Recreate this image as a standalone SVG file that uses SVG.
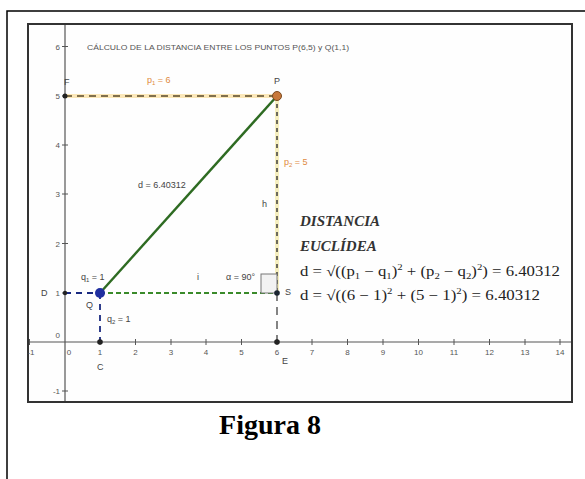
<svg xmlns="http://www.w3.org/2000/svg" width="585" height="479" viewBox="0 0 585 479">
<style>
.ax{stroke:#555;stroke-width:1.2;fill:none}
.tk{stroke:#555;stroke-width:1}
.tl{font-family:"Liberation Sans",Arial,sans-serif;font-size:8px;fill:#555}
.lb{font-family:"Liberation Sans",Arial,sans-serif;font-size:9px;fill:#444}
.ol{font-family:"Liberation Sans",Arial,sans-serif;font-size:9px;fill:#e08a40}
.fm{font-family:"Liberation Serif","Times New Roman",serif;font-size:14px;fill:#222}
.hd{font-family:"Liberation Serif","Times New Roman",serif;font-size:15px;font-style:italic;font-weight:bold;fill:#333}
</style>
<rect x="0" y="0" width="585" height="479" fill="#fff"/>
<path d="M7 600 V11 H600" fill="none" stroke="#000" stroke-width="1.5"/>
<rect x="28" y="24" width="544" height="378" fill="#fefefe" stroke="#333" stroke-width="2"/>
<g id="axes">
<line class="ax" x1="29" y1="342" x2="571" y2="342"/>
<line class="ax" x1="65" y1="25" x2="65" y2="401"/>
<g class="tk">
<path d="M29.5 339v6M100 339v6M135.5 339v6M171 339v6M206 339v6M241.5 339v6M277 339v6M312 339v6M347.5 339v6M383 339v6M418.5 339v6M454 339v6M489.5 339v6M525 339v6M560 339v6"/>
<path d="M62 46.5h6M62 96h6M62 145h6M62 194h6M62 243.5h6M62 293h6M62 391h6"/>
</g>
<g class="tl" text-anchor="middle">
<text x="31" y="355">-1</text><text x="69" y="355">0</text><text x="100" y="355">1</text><text x="135.5" y="355">2</text><text x="171" y="355">3</text><text x="206" y="355">4</text><text x="241.5" y="355">5</text><text x="277" y="355">6</text><text x="312" y="355">7</text><text x="347.5" y="355">8</text><text x="383" y="355">9</text><text x="418.5" y="355">10</text><text x="454" y="355">11</text><text x="489.5" y="355">12</text><text x="525" y="355">13</text><text x="560" y="355">14</text>
</g>
<g class="tl" text-anchor="end">
<text x="60" y="49.5">6</text><text x="60" y="99">5</text><text x="60" y="148">4</text><text x="60" y="197">3</text><text x="60" y="246.5">2</text><text x="60" y="296">1</text><text x="60" y="338">0</text><text x="60" y="394">-1</text>
</g>
</g>
<text class="tl" x="87" y="50" textLength="262" lengthAdjust="spacingAndGlyphs" fill="#666">CÁLCULO DE LA DISTANCIA ENTRE LOS PUNTOS P(6,5) y Q(1,1)</text>
<g id="connectors">
<line x1="65" y1="96" x2="277" y2="96" stroke="#fbe7b8" stroke-width="4"/>
<line x1="65" y1="96" x2="277" y2="96" stroke="#5a4a2a" stroke-width="1.6" stroke-dasharray="7 5"/>
<line x1="277" y1="96" x2="277" y2="293" stroke="#f6efc0" stroke-width="4"/>
<line x1="277" y1="96" x2="277" y2="293" stroke="#333" stroke-width="1.4" stroke-dasharray="4 4"/>
<line x1="277" y1="293" x2="277" y2="342" stroke="#333" stroke-width="1.2" stroke-dasharray="8 6"/>
<line x1="100" y1="293" x2="277" y2="293" stroke="#3a8a2a" stroke-width="2" stroke-dasharray="5 3"/>
<line x1="65" y1="293" x2="100" y2="293" stroke="#1a2a80" stroke-width="1.8" stroke-dasharray="6 5"/>
<line x1="100" y1="293" x2="100" y2="342" stroke="#1a2a80" stroke-width="1.8" stroke-dasharray="6 5"/>
<line x1="100" y1="293" x2="277" y2="96" stroke="#2e6b22" stroke-width="2.4"/>
<rect x="261" y="274" width="16" height="19" fill="#f2f2f2" stroke="#777" stroke-width="1"/>
</g>
<g id="labels">
<text class="ol" x="147" y="83">p<tspan font-size="6" dy="2">1</tspan><tspan dy="-2"> = 6</tspan></text>
<text class="ol" x="284" y="165">p<tspan font-size="6" dy="2">2</tspan><tspan dy="-2"> = 5</tspan></text>
<text class="lb" x="262" y="207">h</text>
<text class="lb" x="138" y="188">d = 6.40312</text>
<text class="lb" x="197" y="280">i</text>
<text class="lb" x="226" y="280">α = 90°</text>
<text class="lb" x="81" y="280" fill="#223">q<tspan font-size="6" dy="2">1</tspan><tspan dy="-2"> = 1</tspan></text>
<text class="lb" x="107" y="322" fill="#223">q<tspan font-size="6" dy="2">2</tspan><tspan dy="-2"> = 1</tspan></text>
</g>
<g id="pointF"><circle cx="65" cy="96" r="2.5" fill="#222"/><text class="lb" x="64" y="85">F</text></g>
<g id="pointP"><circle cx="277" cy="96" r="4.5" fill="#c8783a" stroke="#7a4a20" stroke-width="1"/><text class="lb" x="274" y="84">P</text></g>
<g id="pointQ"><circle cx="100" cy="293" r="5" fill="#1f2fa0"/><text class="lb" x="86" y="308">Q</text></g>
<g id="pointS"><circle cx="277" cy="293" r="2.8" fill="#1a2530"/><text class="lb" x="285" y="295">S</text></g>
<g id="pointD"><circle cx="65" cy="293" r="2.2" fill="#222"/><text class="lb" x="41" y="296">D</text></g>
<g id="pointC"><circle cx="100" cy="342" r="2.8" fill="#222"/><text class="lb" x="97" y="370">C</text></g>
<g id="pointE"><circle cx="277" cy="342" r="2.8" fill="#222"/><text class="lb" x="282" y="364">E</text></g>
<g id="formula">
<text class="hd" x="300" y="226">DISTANCIA</text>
<text class="hd" x="300" y="251">EUCLÍDEA</text>
<text class="fm" x="300" y="276" textLength="260" lengthAdjust="spacingAndGlyphs">d = √((p<tspan font-size="9" dy="3">1</tspan><tspan dy="-3"> − q</tspan><tspan font-size="9" dy="3">1</tspan><tspan dy="-3">)</tspan><tspan font-size="9" dy="-6">2</tspan><tspan dy="6"> + (p</tspan><tspan font-size="9" dy="3">2</tspan><tspan dy="-3"> − q</tspan><tspan font-size="9" dy="3">2</tspan><tspan dy="-3">)</tspan><tspan font-size="9" dy="-6">2</tspan><tspan dy="6">) = 6.40312</tspan></text>
<text class="fm" x="300" y="300" textLength="240" lengthAdjust="spacingAndGlyphs">d = √((6 − 1)<tspan font-size="9" dy="-6">2</tspan><tspan dy="6"> + (5 − 1)</tspan><tspan font-size="9" dy="-6">2</tspan><tspan dy="6">) = 6.40312</tspan></text>
</g>
<text x="270" y="434" text-anchor="middle" font-family="Liberation Serif,'Times New Roman',serif" font-size="28" font-weight="bold" fill="#000">Figura 8</text>
</svg>
